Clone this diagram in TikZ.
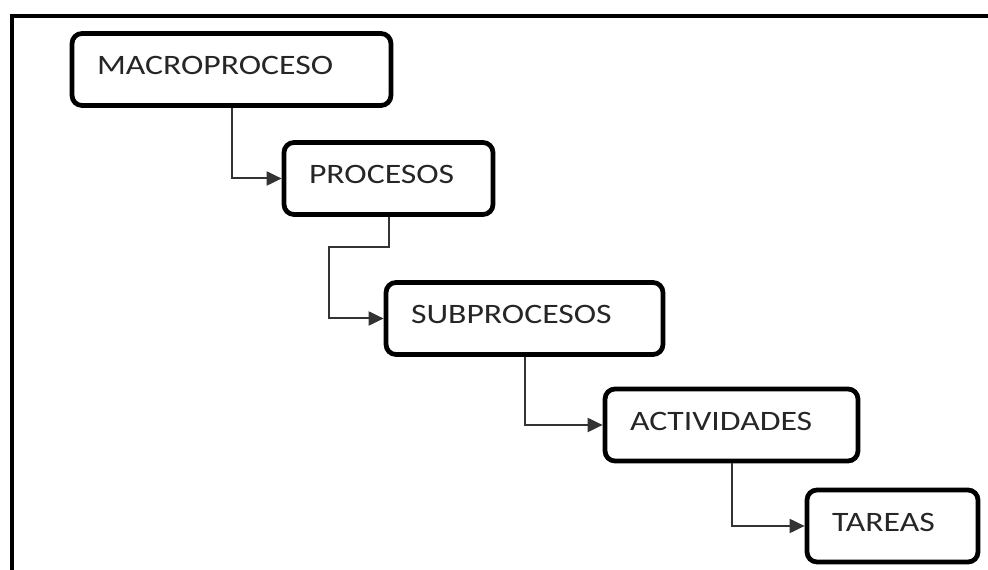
\documentclass[tikz,border=0pt]{standalone}
\usepackage{fontspec}
\setmainfont[FakeStretch=1.2]{Carlito}
\usepackage{tikz}
\usetikzlibrary{positioning,arrows.meta}
\usepackage{xcolor}

\begin{document}
\begin{tikzpicture}[
  x=0.02cm, y=-0.02cm,
  font=\fontsize{16}{18}\selectfont,
  >={Triangle[length=0.3cm,width=0.28cm]},
  stage/.style={draw=black, line width=0.095cm, rounded corners=0.2cm,
    text=black!85, align=left, inner xsep=0.5cm, minimum height=1.44cm,
    text height=0.37cm, text depth=0.16cm, text width=#1},
  link/.style={->, draw=black!80, line width=0.04cm},
]
  \useasboundingbox (0,0) rectangle (988,570);

  % Outer frame (cut at right and bottom)
  \draw[line width=0.08cm] (12,580) -- (12,16) -- (995,16);

  % Levels
  \node[stage=5.38cm] (macro) at (231.5,69.5) {MACROPROCESO};
  \node[stage=3.18cm] (procesos) at (388.5,178.5) {PROCESOS};
  \node[stage=4.54cm] (subprocesos) at (524.5,318.5) {SUBPROCESOS};
  \node[stage=4.06cm] (actividades) at (731.5,425) {ACTIVIDADES};
  \node[stage=2.42cm] (tareas) at (892.5,526) {TAREAS};

  % Connectors
  \coordinate (bend) at (329,247);
  \draw[link] (macro.south) |- (procesos.west);
  \draw[link] (procesos.south) |- (bend) |- (subprocesos.west);
  \draw[link] (subprocesos.south) |- (actividades.west);
  \draw[link] (actividades.south) |- (tareas.west);
\end{tikzpicture}
\end{document}
